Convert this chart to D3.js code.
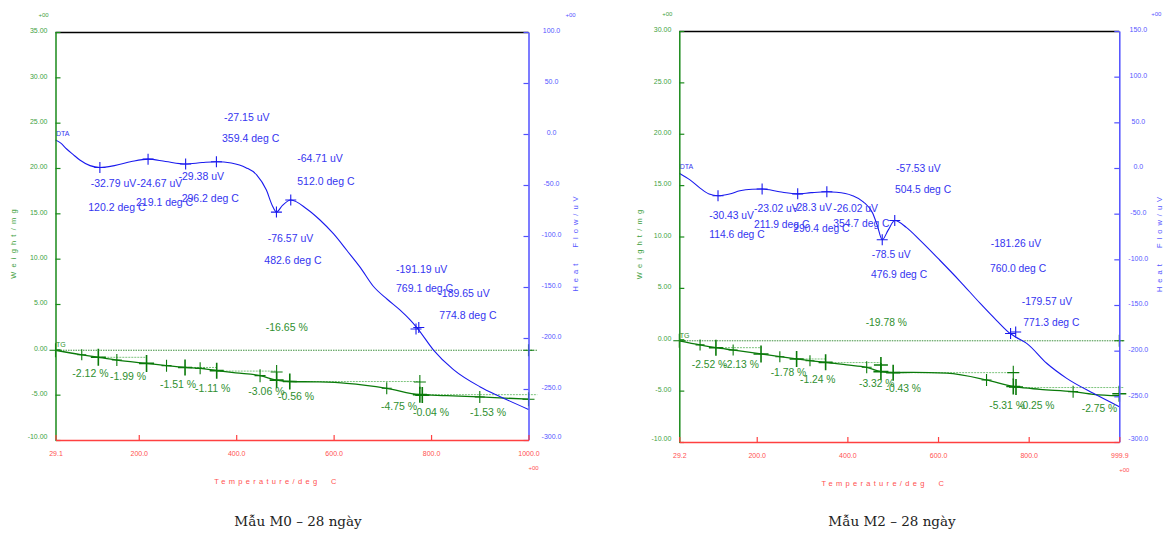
<!DOCTYPE html>
<html><head><meta charset="utf-8">
<script src="https://cdn.jsdelivr.net/npm/d3@7"></script>
<style>body{margin:0;background:#fff}svg{display:block}</style>
</head><body><svg id="c" width="1164" height="535"></svg>
<script>
// ---------------- DATA: sample M0 ----------------
const m0Caption = "Mẫu M0 – 28 ngày";
const m0TempTicks = [29.1, 200, 400, 600, 800, 1000];
const m0TempTickLabels = ["29.1", "200.0", "400.0", "600.0", "800.0", "1000.0"];
const m0WeightTicks = [-10, -5, 0, 5, 10, 15, 20, 25, 30, 35];
const m0HeatTicks = [-300, -250, -200, -150, -100, -50, 0, 50, 100];
const m0DtaT = [29.1, 40, 52, 65, 79, 100, 120.2, 150, 185, 219.1, 255, 296.2, 330, 359.4, 390, 420, 442, 462, 474, 482.6, 495, 512.0, 545, 572, 600, 627, 655, 681, 710, 736, 757, 772, 805, 846, 900, 942, 1000];
const m0DtaV = [-6, -9, -14.7, -20, -25.5, -31, -32.79, -31, -27, -24.67, -27, -29.38, -28, -27.15, -28.5, -33, -40, -55, -70, -76.57, -70, -64.71, -73.5, -84.3, -98, -114, -131, -149, -162, -172.5, -182.3, -190.5, -211.8, -231, -247.7, -257.5, -270];
const m0TgT = [29.1, 83, 117, 155, 216, 257, 295, 326, 360, 399, 449, 483, 510, 570, 627, 709, 777, 832, 900, 1000];
const m0TgW = [-0.1, -0.6, -0.88, -1.18, -1.55, -1.8, -2.0, -2.1, -2.35, -2.6, -2.9, -3.4, -3.55, -3.6, -3.75, -4.3, -5.0, -5.1, -5.25, -5.5];
const m0PeakT = [120.2, 219.1, 296.2, 359.4, 482.6, 512.0, 769.1, 774.8];
const m0PeakV = [-32.79, -24.67, -29.38, -27.15, -76.57, -64.71, -191.19, -189.65];
const m0TgMarkT = [29.1, 83, 117, 155, 216, 257, 295, 326, 360, 449, 483, 483, 510, 709, 777, 777, 782, 900, 1000, 1000];
const m0TgMarkW = [-0.1, -0.6, -0.88, -1.18, -1.55, -1.8, -2.0, -2.1, -2.35, -2.9, -2.5, -3.4, -3.55, -4.3, -3.6, -5.0, -5.05, -5.25, -5.5, -0.1];
const m0StepPct = [-2.12, -1.99, -1.51, -1.11, -3.06, -0.56, -4.75, -0.04, -1.53];
const m0TotalPct = -16.65;
const m0BaseFrom = [29.1, 117, 295, 360, 510, 777];
const m0BaseTo = [1018, 216, 360, 483, 777, 1018];
const m0BaseW = [-0.1, -0.88, -2.0, -2.4, -3.55, -5.0];

// ---------------- DATA: sample M2 ----------------
const m2Caption = "Mẫu M2 – 28 ngày";
const m2TempTicks = [29.2, 200, 400, 600, 800, 999.9];
const m2TempTickLabels = ["29.2", "200.0", "400.0", "600.0", "800.0", "999.9"];
const m2WeightTicks = [-10, -5, 0, 5, 10, 15, 20, 25, 30];
const m2HeatTicks = [-300, -250, -200, -150, -100, -50, 0, 50, 100, 150];
const m2DtaT = [29.2, 40, 52.8, 75, 95, 114.6, 140, 163, 190, 211.9, 250, 290.4, 320, 354.7, 376, 410, 435, 456, 466, 476.9, 490, 504.5, 530, 560, 604, 648.5, 692.6, 729.4, 760, 771, 795.6, 839.7, 883.9, 942.6, 999.9];
const m2DtaV = [-5.8, -9, -13, -22, -28.5, -30.43, -28.5, -25, -23.3, -23.02, -26, -28.3, -27, -26.02, -26.5, -30, -37, -49.6, -63, -78.5, -68, -57.53, -65, -79, -101, -124, -148, -167, -181.5, -185, -192, -213.8, -230.3, -246.7, -261.3];
const m2TgT = [29.2, 75, 110, 148, 209.5, 251, 288, 317.5, 352, 398.5, 442.6, 474, 501, 545, 619, 707, 766, 825, 898, 942.5, 999.9];
const m2TgW = [-0.15, -0.55, -0.82, -1.05, -1.43, -1.7, -1.92, -2.09, -2.25, -2.5, -2.73, -3.15, -3.25, -3.22, -3.3, -3.96, -4.6, -4.87, -5.1, -5.36, -5.5];
const m2PeakT = [114.6, 211.9, 290.4, 354.7, 476.9, 504.5, 760.0, 771.3];
const m2PeakV = [-30.43, -23.02, -28.3, -26.02, -78.5, -57.53, -181.26, -179.57];
const m2TgMarkT = [29.2, 75, 110, 148, 209.5, 251, 288, 317.5, 352, 442.6, 474, 474, 501, 707, 766, 766, 772, 898, 999.9, 999.9];
const m2TgMarkW = [-0.15, -0.55, -0.82, -1.05, -1.43, -1.7, -1.92, -2.09, -2.25, -2.73, -2.5, -3.15, -3.25, -3.96, -3.25, -4.6, -4.65, -5.1, -5.3, -0.15];
const m2StepPct = [-2.52, -2.13, -1.78, -1.24, -3.32, -0.43, -5.31, -0.25, -2.75];
const m2TotalPct = -19.78;
const m2BaseFrom = [29.2, 110, 288, 352, 501, 766];
const m2BaseTo = [1010, 211, 352, 474, 766, 1010];
const m2BaseW = [-0.15, -0.82, -1.92, -2.27, -3.25, -4.7];

// ---------------- LAYOUT (label anchors in data units, sizes) ----------------
const m0PeakLabelAt = [[101.4,-51.8,96.4,-75.3],[195.8,-51.8,194.3,-70.8],[281.6,-45.3,288.1,-66.5],[375,12.9,370.9,-8.3],[464.7,-105.7,457.7,-127.0],[525.4,-27.3,525.4,-50.2],[728,-135.8,728,-154.7],[814.9,-159.6,816.9,-181.6]];
const m0StepLabelAt = [[63.6,-3.03],[141,-3.40],[243.6,-4.21],[315.5,-4.76],[424.9,-5.06],[485.8,-5.61],[697.2,-6.71],[762.9,-7.33],[879.9,-7.33]];
const m0TotalLabelAt = [460.6, 2.05];
const m0TgMarkSize = [12, 9, 15, 10, 15, 10, 14, 10, 14, 11, 12, 14, 14, 10, 12, 14, 14, 10, 12, 10];
const m2PeakLabelAt = [[95.4,-55.3,95.4,-76.4],[194,-48.0,194,-66.2],[280,-46.9,280.7,-69.9],[369,-48.0,369,-65.1],[453.7,-98.0,452.2,-119.9],[507.3,-4.2,505.1,-27.9],[716.2,-86.3,714.6,-114.4],[784.6,-150.2,788.1,-173.2]];
const m2StepLabelAt = [[56.6,-2.78],[126.3,-2.78],[230.8,-3.56],[295.5,-4.24],[425.6,-4.63],[484.1,-5.11],[713.1,-6.74],[778.6,-6.74],[917,-7.06]];
const m2TotalLabelAt = [440.4, 1.27];
const m2TgMarkSize = [12, 9, 14, 9, 15, 9, 14, 9, 14, 10, 14, 15, 14, 10, 12, 14, 14, 10, 14, 10];

const GREEN_AX = "#1a8a1a", GREEN_TX = "#3f9f3f", GREEN_LN = "#0a7a0a", GREEN_LB = "#2f8f2f", GREEN_DOT = "#7cc47c";
const BLUE_AX = "#5050ff", BLUE_TX = "#5555ff", BLUE_LN = "#1a1aee", BLUE_LB = "#3535f0";
const RED_AX = "#ff4040", RED_TX = "#ff5050";
const SANS = "'Liberation Sans', Arial, sans-serif";

const svg = d3.select("#c");
svg.append("rect").attr("width", 1164).attr("height", 535).attr("fill", "#fff");

function drawPanel(L, D) {
  const g = svg.append("g");
  const x = d3.scaleLinear().domain([D.tTicks[0], D.tTicks[D.tTicks.length - 1]]).range([L.left, L.right]);
  const yw = d3.scaleLinear().domain([D.wTicks[0], D.wTicks[D.wTicks.length - 1]]).range([L.bottom, L.top]);
  const yh = d3.scaleLinear().domain([D.hTicks[0], D.hTicks[D.hTicks.length - 1]]).range([L.bottom, L.top]);

  g.append("line").attr("x1", L.left).attr("x2", L.right).attr("y1", L.top + 0.5).attr("y2", L.top + 0.5)
    .attr("stroke", "#000").attr("stroke-width", 1.3);

  D.baseFrom.forEach((t0, i) => {
    g.append("line").attr("x1", x(t0)).attr("x2", x(D.baseTo[i]))
      .attr("y1", yw(D.baseW[i])).attr("y2", yw(D.baseW[i]))
      .attr("stroke", i === 0 ? "#3d8f3d" : GREEN_DOT).attr("stroke-width", 1)
      .attr("stroke-dasharray", i === 0 ? "1.5,1" : "2,1");
  });

  const tgLine = d3.line().x((v, i) => x(D.tgT[i])).y(v => yw(v)).curve(d3.curveMonotoneX);
  g.append("path").datum(D.tgW).attr("d", tgLine).attr("fill", "none").attr("stroke", GREEN_LN).attr("stroke-width", 1.3);

  D.tgMarkT.forEach((t, i) => {
    const cx = x(t), cy = yw(D.tgMarkW[i]), s = L.markSize[i];
    g.append("path").attr("d", `M${cx - s / 2},${cy}H${cx + s / 2}M${cx},${cy - s / 2 - 1}V${cy + s / 2 + 1}`)
      .attr("stroke", GREEN_LN).attr("stroke-width", s >= 13 ? 1.6 : 1.1).attr("fill", "none");
  });

  const dtaLine = d3.line().x((v, i) => x(D.dtaT[i])).y(v => yh(v)).curve(d3.curveMonotoneX);
  g.append("path").datum(D.dtaV).attr("d", dtaLine).attr("fill", "none").attr("stroke", BLUE_LN).attr("stroke-width", 1.1);

  D.peakT.forEach((t, i) => {
    const cx = x(t), cy = yh(D.peakV[i]), s = 11;
    g.append("path").attr("d", `M${cx - s / 2},${cy}H${cx + s / 2}M${cx},${cy - s / 2}V${cy + s / 2}`)
      .attr("stroke", BLUE_LN).attr("stroke-width", 1.1).attr("fill", "none");
  });

  g.append("text").attr("x", x(D.dtaT[0]) + 0.5).attr("y", yh(D.dtaV[0]) - 4).text("DTA")
    .attr("font-family", SANS).attr("font-size", 7).attr("fill", BLUE_LB);
  g.append("text").attr("x", x(D.tgT[0]) + 0.5).attr("y", yw(D.tgW[0]) - 3).text("TG")
    .attr("font-family", SANS).attr("font-size", 7).attr("fill", GREEN_LB);

  D.peakT.forEach((t, i) => {
    const a = L.peakLabelAt[i];
    g.append("text").attr("x", x(a[0])).attr("y", yh(a[1])).text(`${D.peakV[i]} uV`)
      .attr("font-family", SANS).attr("font-size", L.fs).attr("fill", BLUE_LB);
    g.append("text").attr("x", x(a[2])).attr("y", yh(a[3])).text(`${t.toFixed(1)} deg C`)
      .attr("font-family", SANS).attr("font-size", L.fs).attr("fill", BLUE_LB);
  });
  D.stepPct.forEach((p, i) => {
    const a = L.stepLabelAt[i];
    g.append("text").attr("x", x(a[0])).attr("y", yw(a[1])).text(`${p.toFixed(2)} %`)
      .attr("font-family", SANS).attr("font-size", L.fs).attr("fill", GREEN_LB);
  });
  g.append("text").attr("x", x(L.totalAt[0])).attr("y", yw(L.totalAt[1])).text(`${D.totalPct.toFixed(2)} %`)
    .attr("font-family", SANS).attr("font-size", L.fs).attr("fill", GREEN_LB);

  const aw = g.append("g").attr("transform", `translate(${L.left},0)`)
    .call(d3.axisLeft(yw).tickValues(D.wTicks).tickFormat(v => v.toFixed(2)).tickSizeInner(-5).tickSizeOuter(0).tickPadding(8));
  aw.select(".domain").attr("stroke", GREEN_AX).attr("stroke-width", 1.5);
  aw.selectAll(".tick line").attr("stroke", GREEN_AX).attr("stroke-width", 1.2);
  aw.selectAll("text").attr("fill", GREEN_TX).attr("font-size", 7).attr("font-family", SANS)
    .attr("dy", v => v === D.wTicks[0] ? "-0.25em" : "0.12em");

  const ah = g.append("g").attr("transform", `translate(${L.right},0)`)
    .call(d3.axisRight(yh).tickValues(D.hTicks).tickFormat(v => v.toFixed(1)).tickSizeInner(-5).tickSizeOuter(0).tickPadding(8));
  ah.select(".domain").attr("stroke", BLUE_AX).attr("stroke-width", 1.5);
  ah.selectAll(".tick line").attr("stroke", BLUE_AX).attr("stroke-width", 1.2);
  ah.selectAll("text").attr("fill", BLUE_TX).attr("font-size", 7).attr("font-family", SANS)
    .attr("text-anchor", "middle").attr("x", L.heatLabelDx)
    .attr("dy", v => v === D.hTicks[0] ? "-0.25em" : "0.12em");

  const at = g.append("g").attr("transform", `translate(0,${L.bottom})`)
    .call(d3.axisBottom(x).tickValues(D.tTicks).tickFormat((v, i) => D.tLabels[i]).tickSizeInner(-5).tickSizeOuter(0).tickPadding(11));
  at.select(".domain").attr("stroke", RED_AX).attr("stroke-width", 1.5);
  at.selectAll(".tick line").attr("stroke", RED_AX).attr("stroke-width", 1.2);
  at.selectAll("text").attr("fill", RED_TX).attr("font-size", 7).attr("font-family", SANS);

  const tag = (tx, ty, c) => g.append("text").attr("x", tx).attr("y", ty).attr("text-anchor", "middle")
    .attr("font-family", SANS).attr("font-size", 6).attr("fill", c).text("+00");
  tag(L.left - 12, L.top - 15, GREEN_TX);
  tag(L.right + L.expRightDx, L.top - 15, BLUE_TX);
  tag(L.right + 5, L.bottom + 30, RED_TX);

  const mid = (L.left + L.right) / 2, vmid = (L.top + L.bottom) / 2 + 6;
  g.append("text").attr("x", mid - 15).attr("y", L.bottom + 44).attr("text-anchor", "middle")
    .attr("font-family", SANS).attr("font-size", 7.5).attr("letter-spacing", 3.3).attr("fill", RED_TX)
    .style("white-space", "pre").text("Temperature/deg  C");
  g.append("text").attr("transform", `translate(${L.left - L.wTitleDx},${vmid}) rotate(-90)`).attr("text-anchor", "middle")
    .attr("font-family", SANS).attr("font-size", 7.5).attr("letter-spacing", 4.2).attr("fill", GREEN_TX)
    .style("white-space", "pre").text("Weight/mg");
  g.append("text").attr("transform", `translate(${L.right + L.hTitleDx},${vmid}) rotate(-90)`).attr("text-anchor", "middle")
    .attr("font-family", SANS).attr("font-size", 7.5).attr("letter-spacing", 4.0).attr("fill", BLUE_TX)
    .style("white-space", "pre").text("Heat  Flow/uV");

  g.append("text").attr("x", L.capX).attr("y", 526).attr("text-anchor", "middle")
    .attr("font-family", "'DejaVu Serif', serif").attr("font-size", 13.5).attr("fill", "#222").text(D.caption);
}

drawPanel(
  { left: 55.5, right: 528.5, top: 32, bottom: 440, fs: 10.5, heatLabelDx: 23, expRightDx: 42, wTitleDx: 40, hTitleDx: 49, capX: 298,
    peakLabelAt: m0PeakLabelAt, stepLabelAt: m0StepLabelAt, totalAt: m0TotalLabelAt, markSize: m0TgMarkSize },
  { caption: m0Caption, tTicks: m0TempTicks, tLabels: m0TempTickLabels, wTicks: m0WeightTicks, hTicks: m0HeatTicks,
    dtaT: m0DtaT, dtaV: m0DtaV, tgT: m0TgT, tgW: m0TgW, peakT: m0PeakT, peakV: m0PeakV,
    tgMarkT: m0TgMarkT, tgMarkW: m0TgMarkW, stepPct: m0StepPct, totalPct: m0TotalPct,
    baseFrom: m0BaseFrom, baseTo: m0BaseTo, baseW: m0BaseW }
);
drawPanel(
  { left: 679.3, right: 1119.3, top: 31, bottom: 442, fs: 10.3, heatLabelDx: 19, expRightDx: 37, wTitleDx: 37, hTitleDx: 42.5, capX: 892,
    peakLabelAt: m2PeakLabelAt, stepLabelAt: m2StepLabelAt, totalAt: m2TotalLabelAt, markSize: m2TgMarkSize },
  { caption: m2Caption, tTicks: m2TempTicks, tLabels: m2TempTickLabels, wTicks: m2WeightTicks, hTicks: m2HeatTicks,
    dtaT: m2DtaT, dtaV: m2DtaV, tgT: m2TgT, tgW: m2TgW, peakT: m2PeakT, peakV: m2PeakV,
    tgMarkT: m2TgMarkT, tgMarkW: m2TgMarkW, stepPct: m2StepPct, totalPct: m2TotalPct,
    baseFrom: m2BaseFrom, baseTo: m2BaseTo, baseW: m2BaseW }
);
</script>
</body></html>
